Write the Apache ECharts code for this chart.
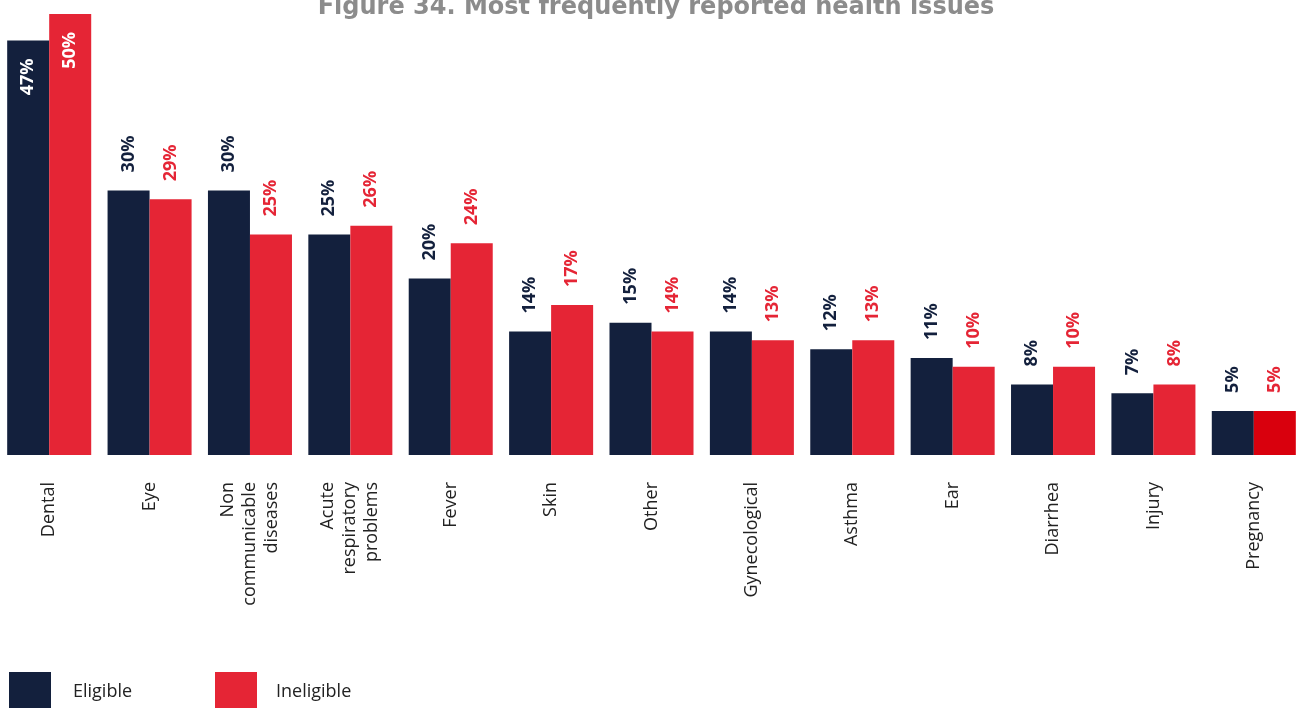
<!DOCTYPE html>
<html>
<head>
<meta charset="utf-8">
<script src="https://cdn.jsdelivr.net/npm/echarts@6/dist/echarts.min.js"></script>
<style>
  html, body { margin: 0; padding: 0; background: #ffffff; overflow: hidden; }
  #chart { position: relative; left: -1px; width: 1320px; height: 708px; }
</style>
</head>
<body>
<div id="chart"></div>
<script>
// Health issue categories (line breaks as printed on the axis)
const categories = [
  'Dental', 'Eye', 'Non\ncommunicable\ndiseases', 'Acute\nrespiratory\nproblems',
  'Fever', 'Skin', 'Other', 'Gynecological', 'Asthma', 'Ear', 'Diarrhea', 'Injury', 'Pregnancy'
];
// Share of respondents reporting each issue (%)
const eligible   = [47, 30, 30, 25, 20, 14, 15, 14, 12, 11, 8, 7, 5];
const ineligible = [50, 29, 25, 26, 24, 17, 14, 13, 13, 10, 10, 8, 5];
// Bars whose label sits inside the bar (too tall for an outside label)
const insideLabelMin = 45;

const NAVY = '#13203d';
const RED = '#e52535';
const RED_DARK = '#d9000d';

const labelFont = { fontFamily: 'Open Sans', fontSize: 18, fontWeight: 'bold' };

function buildData(values, lastColor) {
  return values.map((v, i) => {
    const item = { value: v };
    if (lastColor && i === values.length - 1) item.itemStyle = { color: lastColor };
    if (v >= insideLabelMin) {
      item.label = {
        position: 'insideTop', rotate: 90, align: 'right', verticalAlign: 'middle',
        distance: 18, color: '#ffffff'
      };
    }
    return item;
  });
}

const chart = echarts.init(document.getElementById('chart'));
chart.setOption({
  animation: false,
  backgroundColor: '#ffffff',
  title: {
    text: 'Figure 34. Most frequently reported health issues',
    left: 652,
    textAlign: 'center',
    top: -9,
    textStyle: { fontFamily: 'DejaVu Sans', fontWeight: 'bold', fontSize: 24, color: '#8c8c8c' }
  },
  legend: [
    {
      data: ['Eligible'], left: 10, top: 672, padding: 0, itemWidth: 42, itemHeight: 40,
      icon: 'rect', itemGap: 0,
      textStyle: { fontFamily: 'Open Sans', fontSize: 18, color: '#222222', padding: [0, 0, 0, 17] }
    },
    {
      data: ['Ineligible'], left: 216, top: 672, padding: 0, itemWidth: 42, itemHeight: 40,
      icon: 'rect', itemGap: 0,
      textStyle: { fontFamily: 'Open Sans', fontSize: 18, color: '#222222', padding: [6, 0, 0, 14] }
    }
  ],
  grid: { left: 0, right: 15, top: 14, bottom: 253, containLabel: false },
  xAxis: {
    type: 'category',
    data: categories,
    axisLine: { show: false },
    axisTick: { show: false },
    axisLabel: {
      rotate: 90, margin: 27, interval: 0,
      fontFamily: 'Open Sans', fontSize: 18, color: '#222222', lineHeight: 22
    }
  },
  yAxis: {
    type: 'value', min: 0, max: 50, show: false, splitLine: { show: false }
  },
  series: [
    {
      name: 'Eligible', type: 'bar', barGap: '0%', barCategoryGap: '16.3%',
      itemStyle: { color: NAVY },
      label: {
        show: true, position: 'top', rotate: 90, align: 'left', verticalAlign: 'middle',
        distance: 18, color: NAVY, formatter: '{c}%', ...labelFont
      },
      data: buildData(eligible)
    },
    {
      name: 'Ineligible', type: 'bar', barGap: '0%', barCategoryGap: '16.3%',
      itemStyle: { color: RED },
      label: {
        show: true, position: 'top', rotate: 90, align: 'left', verticalAlign: 'middle',
        distance: 18, color: RED, formatter: '{c}%', ...labelFont
      },
      data: buildData(ineligible, RED_DARK)
    }
  ]
});
</script>
</body>
</html>
